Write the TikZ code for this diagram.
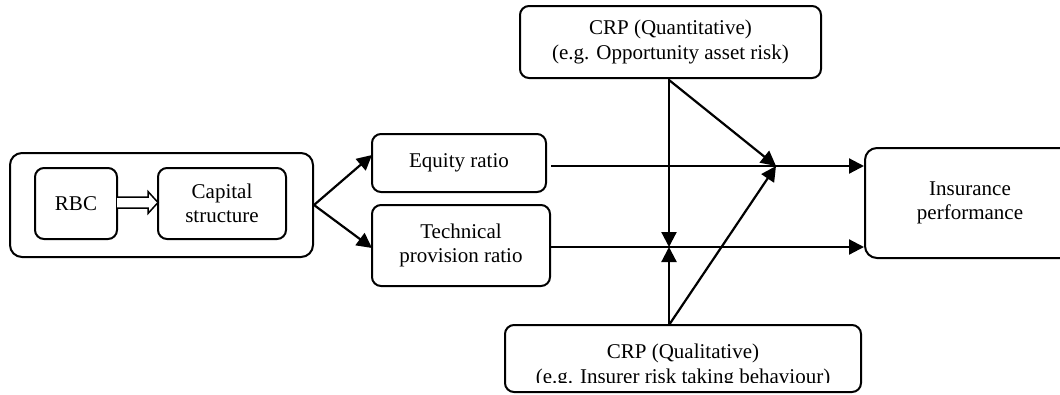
\documentclass[tikz,border=0pt]{standalone}
\usepackage{fontspec}
\setmainfont{Liberation Serif}
\usetikzlibrary{arrows.meta}
\begin{document}
\begin{tikzpicture}[x=1pt,y=-1pt,
  box/.style={draw, line width=2pt, rounded corners=9pt, align=center, inner sep=0pt,
    font=\fontsize{21}{24.5}\selectfont},
  txt/.style={align=center, inner sep=0pt, font=\fontsize{21}{24.5}\selectfont},
  conn/.style={line width=2.2pt, -{Triangle[length=15pt,width=15pt]}},
  hollow/.style={line width=1.5pt, fill=white, line join=miter}]
\useasboundingbox (0,0) rectangle (1060,394);

% boxes
\node[box, rounded corners=12pt, minimum width=303pt, minimum height=104pt] (outer) at (161.5,205) {};
\node[box, minimum width=82pt, minimum height=71pt] (rbc) at (76,203.5) {RBC};
\node[box, minimum width=128pt, minimum height=71pt] (cap) at (222,203.5) {Capital\\structure};
\node[box, minimum width=174pt, minimum height=58pt] (eq) at (459,163) {Equity ratio};
\node[box, minimum width=178pt, minimum height=81pt] (tech) at (461,245.5) {Technical\\provision ratio};
\node[box, minimum width=301pt, minimum height=72pt] (quant) at (670.5,42) {CRP (Quantitative)\\(e.g. Opportunity asset risk)};
\node[box, minimum width=356pt, minimum height=67pt] (qual) at (683,358.5) {};
\begin{scope}
  \clip (506,326) rectangle (860,382);
  \node[txt] (qualtext) at (683,366) {CRP (Qualitative)\\(e.g. Insurer risk taking behaviour)};
\end{scope}
\node[box, rounded corners=12pt, minimum width=210pt, minimum height=110pt] (ins) at (970,203) {Insurance\\performance};

% hollow arrow RBC -> Capital structure
\draw[hollow] (117,197) -- (148,197) -- (148,191.5) -- (158,202.5) -- (148,213.5) -- (148,208) -- (117,208);

% split arrows
\coordinate (eqin) at (372,155);
\coordinate (techin) at (372,248);
\draw[conn] (outer.east) -- (eqin);
\draw[conn] (outer.east) -- (techin);

% main paths
\coordinate (eqout) at (551,166);
\coordinate (techout) at (551,247);
\draw[conn] (eqout) -- (ins.west |- eqout);
\draw[conn] (techout) -- (ins.west |- techout);

% moderators
\coordinate (qtop) at (669,78);
\coordinate (qdiag) at (669,80);
\coordinate (qbot) at (669,325);
\coordinate (meet) at (669,247);
\coordinate (mid) at (776,166);
\draw[conn] (qtop) -- (meet);
\draw[conn] (qbot) -- (meet);
\draw[conn] (qdiag) -- (mid);
\draw[conn] (qbot) -- (mid);
\end{tikzpicture}
\end{document}
